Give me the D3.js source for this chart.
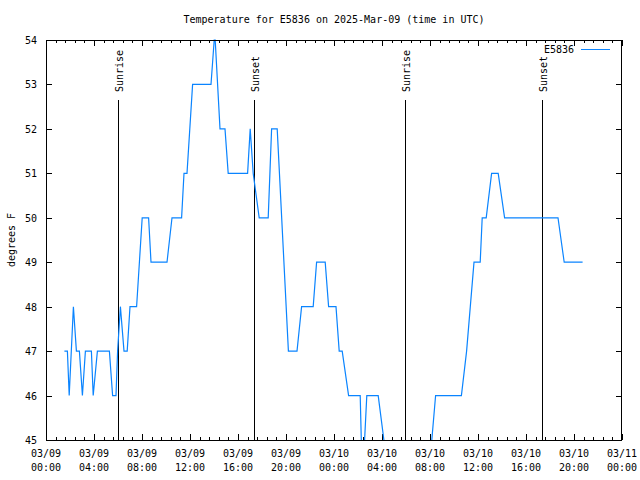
<!DOCTYPE html>
<html>
<head>
<meta charset="utf-8">
<script src="https://cdn.jsdelivr.net/npm/d3@7"></script>
<style>
  html, body { margin: 0; padding: 0; background: #fff; }
  svg { display: block; }
  text { font-family: "DejaVu Sans Mono", "Liberation Mono", monospace; font-size: 10px; fill: #000; }
</style>
</head>
<body>
<svg id="chart" width="640" height="480"></svg>
<script>
// ---- data ----
const title = "Temperature for E5836 on 2025-Mar-09 (time in UTC)";
const seriesName = "E5836";
const yLabel = "degrees F";
const times = [
  "2025-03-09T01:32","2025-03-09T01:47","2025-03-09T01:56","2025-03-09T02:17","2025-03-09T02:32",
  "2025-03-09T02:47","2025-03-09T03:02","2025-03-09T03:17","2025-03-09T03:47","2025-03-09T03:56",
  "2025-03-09T04:17","2025-03-09T05:17","2025-03-09T05:33","2025-03-09T05:50","2025-03-09T05:58",
  "2025-03-09T06:12","2025-03-09T06:30","2025-03-09T06:46","2025-03-09T07:00","2025-03-09T07:33",
  "2025-03-09T07:47","2025-03-09T08:01","2025-03-09T08:33","2025-03-09T08:45","2025-03-09T10:05",
  "2025-03-09T10:30","2025-03-09T11:18","2025-03-09T11:30","2025-03-09T11:45","2025-03-09T12:13",
  "2025-03-09T13:45","2025-03-09T14:01","2025-03-09T14:06","2025-03-09T14:30","2025-03-09T14:55",
  "2025-03-09T15:11","2025-03-09T16:48","2025-03-09T17:01","2025-03-09T17:16","2025-03-09T17:46",
  "2025-03-09T18:31","2025-03-09T18:48","2025-03-09T19:16","2025-03-09T20:12","2025-03-09T20:55",
  "2025-03-09T21:18","2025-03-09T22:16","2025-03-09T22:33","2025-03-09T23:16","2025-03-09T23:33",
  "2025-03-10T00:10","2025-03-10T00:26","2025-03-10T00:41","2025-03-10T01:13","2025-03-10T02:11",
  "2025-03-10T02:22","2025-03-10T02:44","2025-03-10T03:41","2025-03-10T04:38","2025-03-10T07:50",
  "2025-03-10T08:28","2025-03-10T10:37","2025-03-10T11:03","2025-03-10T11:40","2025-03-10T12:11",
  "2025-03-10T12:21","2025-03-10T12:41","2025-03-10T13:08","2025-03-10T13:41","2025-03-10T14:13",
  "2025-03-10T18:40","2025-03-10T19:11","2025-03-10T20:43"
];
const temps = [
  47,47,46,48,47,
  47,46,47,47,46,
  47,47,46,46,47,
  48,47,47,48,48,
  49,50,50,49,49,
  50,50,51,51,53,
  53,54,54,52,52,
  51,51,52,51,50,
  50,52,52,47,47,
  48,48,49,49,48,
  48,47,47,46,46,
  44,46,46,44,44,
  46,46,47,49,49,
  50,50,51,51,50,
  50,49,49
];
const sunEvents = ["Sunrise","Sunset","Sunrise","Sunset"];
const sunTimes = ["2025-03-09T06:00","2025-03-09T17:20","2025-03-10T05:55","2025-03-10T17:19"];
const xStart = "2025-03-09T00:00";
const xEnd = "2025-03-11T00:00";
const yTicks = [45,46,47,48,49,50,51,52,53,54];

// ---- chart ----
const parse = d3.utcParse("%Y-%m-%dT%H:%M");
const L = 46, R = 622, T = 40, B = 440;
const svg = d3.select("#chart");

const x = d3.scaleUtc().domain([parse(xStart), parse(xEnd)]).range([L, R]);
const y = d3.scaleLinear().domain([45, 54]).range([B, T]);

const data = times.map((t, i) => ({ t: parse(t), v: temps[i] }));

svg.append("defs").append("clipPath").attr("id", "clip")
  .append("rect").attr("x", L).attr("y", T - 1).attr("width", R - L).attr("height", B - T + 1);

const t0 = parse(xStart).getTime();
const minor = d3.range(0, 48 * 60 + 1, 48).map(m => new Date(t0 + m * 60000));
const major = d3.range(0, 49, 4).map(h => new Date(t0 + h * 3600000));

const g = svg.append("g").attr("shape-rendering", "crispEdges");

function tickAxis(axisFn, pos, values, size) {
  const a = g.append("g").attr("transform", pos)
    .call(axisFn.tickValues(values).tickSize(size).tickSizeOuter(0).tickFormat(""));
  a.select(".domain").remove();
  a.selectAll("line").attr("stroke", "#000");
}
tickAxis(d3.axisBottom(x), `translate(0,${B})`, major, -6);
tickAxis(d3.axisBottom(x), `translate(0,${B})`, minor, -3);
tickAxis(d3.axisTop(x), `translate(0,${T})`, major, -6);
tickAxis(d3.axisTop(x), `translate(0,${T})`, minor, -3);
tickAxis(d3.axisLeft(y), `translate(${L},0)`, yTicks, -6);
tickAxis(d3.axisRight(y), `translate(${R},0)`, yTicks, -6);

// x labels
const fmtD = d3.utcFormat("%m/%d"), fmtH = d3.utcFormat("%H:%M");
const xl = svg.append("g");
major.forEach(d => {
  const t = xl.append("text").attr("text-anchor", "middle").attr("x", x(d));
  t.append("tspan").attr("x", x(d)).attr("y", 457).text(fmtD(d));
  t.append("tspan").attr("x", x(d)).attr("y", 471).text(fmtH(d));
});

// y labels
svg.append("g").selectAll("text").data(yTicks).join("text")
  .attr("x", 37).attr("y", d => y(d) + 4).attr("text-anchor", "end").text(d => d);

// sun lines
sunTimes.forEach((s, i) => {
  const sx = Math.round(x(parse(s))) + 0.5;
  svg.append("line").attr("x1", sx).attr("x2", sx).attr("y1", 100).attr("y2", B)
    .attr("stroke", "#000").attr("stroke-width", 1.2).attr("shape-rendering", "crispEdges");
  svg.append("text").attr("transform", `translate(${sx + 4},92) rotate(-90)`)
    .attr("text-anchor", "start").text(sunEvents[i]);
});

// data line
const line = d3.line().x(d => x(d.t)).y(d => y(d.v));
svg.append("path").datum(data).attr("clip-path", "url(#clip)")
  .attr("d", line).attr("fill", "none").attr("stroke", "#0a84ff").attr("stroke-width", 1.2);

// border
svg.append("rect").attr("x", L + 0.5).attr("y", T + 0.5).attr("width", R - L - 1).attr("height", B - T)
  .attr("fill", "none").attr("stroke", "#000").attr("stroke-width", 1).attr("shape-rendering", "crispEdges");

// title
svg.append("text").attr("x", (L + R) / 2).attr("y", 23).attr("text-anchor", "middle").text(title);

// y label
svg.append("text").attr("transform", `translate(15,240) rotate(-90)`).attr("text-anchor", "middle").text(yLabel);

// legend
svg.append("text").attr("x", 574).attr("y", 53).attr("text-anchor", "end").text(seriesName);
svg.append("line").attr("x1", 581).attr("x2", 610).attr("y1", 49.5).attr("y2", 49.5)
  .attr("stroke", "#0a84ff").attr("stroke-width", 1.2).attr("shape-rendering", "crispEdges");
</script>
</body>
</html>
